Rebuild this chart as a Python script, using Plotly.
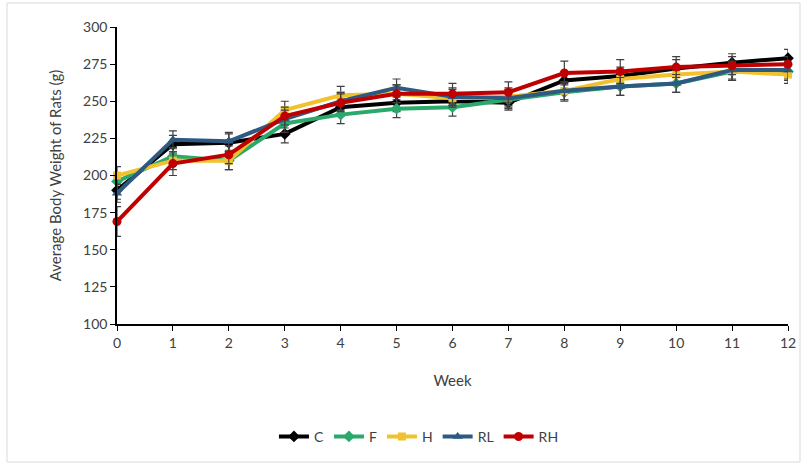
import plotly.graph_objects as go

weeks = [0, 1, 2, 3, 4, 5, 6, 7, 8, 9, 10, 11, 12]
series_names = ["C", "F", "H", "RL", "RH"]
C_vals = [190, 221, 222, 228, 246, 249, 250, 249, 264, 267, 272, 276, 279]
F_vals = [196, 213, 210, 235, 241, 245, 246, 251, 256, 260, 262, 270, 270]
H_vals = [200, 210, 210, 244, 254, 255, 252, 253, 257, 265, 268, 270, 268]
RL_vals = [188, 224, 223, 238, 250, 259, 253, 252, 257, 260, 262, 271, 271]
RH_vals = [169, 208, 214, 240, 249, 255, 255, 256, 269, 270, 273, 274, 275]
C_err = [6, 6, 6, 6, 6, 6, 5, 5, 6, 6, 6, 6, 6]
F_err = [6, 6, 6, 6, 6, 6, 6, 6, 6, 6, 6, 6, 6]
H_err = [6, 6, 6, 6, 6, 6, 6, 6, 6, 6, 6, 6, 6]
RL_err = [6, 6, 6, 6, 6, 6, 6, 6, 6, 6, 6, 6, 6]
RH_err = [10, 8, 6, 6, 6, 6, 7, 7, 8, 8, 7, 6, 5]

values = [C_vals, F_vals, H_vals, RL_vals, RH_vals]
errors = [C_err, F_err, H_err, RL_err, RH_err]
colors = ["#000000", "#2BA86B", "#F2C12E", "#2E5A82", "#C00000"]
symbols = ["diamond", "diamond", "square", "triangle-up", "circle"]
msizes = [9, 9, 8, 9, 9]

fig = go.Figure()
for name, v, e, c, s, ms in zip(series_names, values, errors, colors, symbols, msizes):
    fig.add_trace(go.Scatter(
        x=weeks, y=v, name=name, mode="lines+markers",
        line=dict(color=c, width=4),
        marker=dict(color=c, symbol=s, size=ms),
        error_y=dict(type="data", array=e, visible=True, color="#404040",
                     thickness=1.2, width=4),
        cliponaxis=False,
    ))

font_family = "Lato, 'Open Sans', sans-serif"
fig.update_layout(
    width=807, height=467,
    margin=dict(l=117, r=19, t=27, b=143),
    paper_bgcolor="white", plot_bgcolor="white",
    font=dict(family=font_family, size=14, color="#404040"),
    showlegend=True,
    legend=dict(orientation="h", x=0.45, xanchor="center", y=-0.38, yanchor="middle",
                font=dict(size=14, color="#404040"), itemwidth=30, tracegroupgap=0),
    xaxis=dict(range=[0, 12], tickmode="array", tickvals=weeks,
               ticktext=[str(w) for w in weeks],
               showline=True, linecolor="#000000", linewidth=1.5,
               ticks="outside", ticklen=5, tickcolor="#000000",
               tickfont=dict(size=14),
               showgrid=False, zeroline=False,
               title=dict(text="Week", font=dict(size=15, color="#404040"), standoff=26)),
    yaxis=dict(range=[100, 300], tickmode="array",
               tickvals=[100, 125, 150, 175, 200, 225, 250, 275, 300],
               showline=True, linecolor="#000000", linewidth=1.5,
               ticks="outside", ticklen=5, tickcolor="#000000",
               tickfont=dict(size=14),
               showgrid=False, zeroline=False,
               title=dict(text="Average Body Weight of Rats (g)",
                          font=dict(size=15, color="#404040"), standoff=18)),
    shapes=[dict(type="rect", xref="paper", yref="paper",
                 x0=(7 - 117) / 671, x1=(800 - 117) / 671,
                 y0=(324 - 462) / 297, y1=(324 - 3) / 297,
                 line=dict(color="#D9D9D9", width=1), fillcolor="rgba(0,0,0,0)",
                 layer="below")],
)

fig.write_html("out.html")
